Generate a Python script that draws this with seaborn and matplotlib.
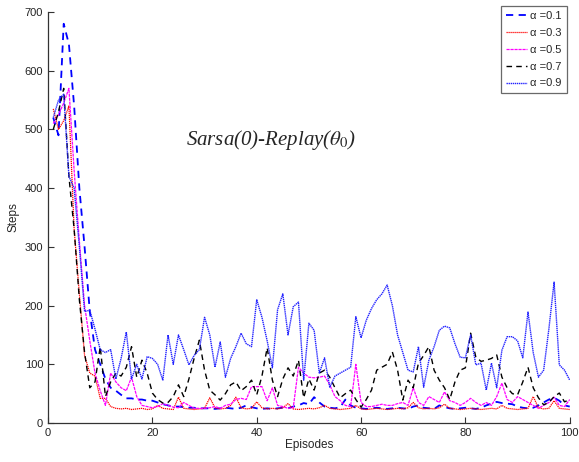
import numpy as np
import pandas as pd
import matplotlib
matplotlib.use("Agg")
import matplotlib.pyplot as plt
import seaborn as sns

episodes = list(range(1, 101))

alpha_01 = [520, 490, 680, 645, 540, 400, 300, 190, 125, 100,
            75, 60, 55, 48, 42, 42, 40, 40, 38, 38,
            35, 32, 30, 28, 28, 27, 26, 26, 25, 25,
            25, 24, 25, 26, 25, 24, 26, 30, 27, 25,
            24, 25, 24, 25, 26, 25, 28, 30, 34, 32,
            44, 35, 28, 26, 25, 27, 40, 30, 26, 25,
            24, 25, 26, 25, 24, 25, 26, 25, 24, 28,
            30, 26, 25, 24, 30, 27, 25, 24, 25, 26,
            25, 24, 26, 30, 33, 36, 34, 33, 32, 28,
            26, 25, 26, 30, 35, 40, 43, 38, 30, 28]

alpha_03 = [535, 500, 515, 540, 330, 220, 115, 85, 80, 42,
            42, 28, 25, 24, 25, 23, 24, 25, 23, 24,
            30, 25, 24, 23, 44, 25, 24, 23, 24, 25,
            43, 26, 24, 25, 30, 44, 26, 24, 25, 36,
            26, 24, 25, 24, 26, 33, 24, 23, 24, 25,
            24, 26, 30, 25, 24, 23, 24, 25, 30, 24,
            23, 24, 25, 24, 23, 24, 25, 24, 26, 35,
            26, 24, 25, 24, 26, 32, 25, 24, 23, 24,
            25, 24, 23, 24, 25, 24, 30, 25, 24, 23,
            24, 25, 45, 26, 24, 25, 38, 25, 24, 23]

alpha_05 = [510, 525, 545, 570, 430, 310, 200, 140, 85, 55,
            30, 85, 70, 60, 55, 78, 45, 30, 28, 26,
            28, 33, 30, 27, 26, 35, 30, 25, 25, 25,
            26, 28, 25, 30, 32, 40, 42, 40, 62, 62,
            62, 38, 60, 30, 28, 25, 26, 95, 85, 78,
            77, 78, 80, 65, 45, 38, 30, 28, 100, 35,
            28, 28, 30, 32, 30, 30, 33, 35, 30, 60,
            35, 30, 45, 40, 35, 53, 38, 35, 30, 35,
            42, 35, 30, 35, 30, 45, 68, 40, 35, 45,
            40, 35, 30, 25, 30, 35, 44, 30, 28, 40]

alpha_07 = [500, 530, 570, 420, 330, 210, 120, 60, 70, 130,
            45, 70, 85, 80, 95, 130, 78, 107, 85, 51,
            40, 34, 35, 45, 65, 45, 75, 110, 141, 90,
            56, 48, 39, 50, 65, 70, 55, 62, 73, 48,
            80, 128, 73, 45, 75, 94, 80, 107, 43, 75,
            56, 85, 90, 78, 60, 43, 50, 56, 40, 27,
            40, 56, 90, 95, 100, 121, 90, 39, 73, 60,
            102, 115, 130, 90, 73, 60, 40, 70, 90, 94,
            153, 112, 105, 107, 110, 116, 78, 60, 50, 48,
            70, 95, 60, 43, 31, 35, 45, 51, 36, 40]

alpha_09 = [520, 550, 560, 420, 400, 300, 190, 192, 160, 125,
            120, 125, 75, 110, 155, 75, 100, 75, 113, 110,
            100, 73, 150, 100, 150, 125, 99, 115, 125, 180,
            150, 95, 138, 78, 110, 130, 153, 135, 130, 210,
            180, 140, 94, 193, 220, 150, 198, 206, 73, 170,
            158, 85, 111, 61, 80, 85, 90, 95, 181, 145,
            175, 195, 210, 220, 235, 200, 150, 120, 90, 87,
            130, 61, 107, 130, 158, 165, 162, 135, 112, 111,
            150, 99, 102, 56, 102, 60, 124, 147, 147, 140,
            111, 189, 120, 78, 90, 160, 240, 99, 90, 73]

labels = ["α =0.1", "α =0.3", "α =0.5", "α =0.7", "α =0.9"]
series = [alpha_01, alpha_03, alpha_05, alpha_07, alpha_09]
colors = ["#0000ff", "#ff0000", "#ff00ff", "#000000", "#2222ff"]
styles = [(0, (4, 3)), (0, (1, 0.6)), (0, (2.5, 0.7)), (0, (4, 3)), (0, (1, 0.5))]
widths = [1.3, 0.9, 0.9, 1.0, 1.0]

sns.set_style("ticks")
plt.rcParams["font.family"] = ["Liberation Sans", "DejaVu Sans"]
plt.rcParams["mathtext.fontset"] = "stix"

fig = plt.figure(figsize=(5.79, 4.62), dpi=100)
ax = fig.add_axes([0.083, 0.0844, 0.901, 0.8896])

for lab, vals, c, ls, lw in zip(labels, series, colors, styles, widths):
    df = pd.DataFrame({"Episodes": episodes, "Steps": vals})
    sns.lineplot(data=df, x="Episodes", y="Steps", ax=ax, color=c,
                 linestyle=ls, linewidth=lw, label=lab)

ax.set_xlim(0, 100)
ax.set_ylim(0, 700)
ax.set_xticks(np.arange(0, 101, 20))
ax.set_yticks(np.arange(0, 701, 100))
ax.tick_params(direction="in", length=4, width=0.8, labelsize=8, colors="#333333",
               labelcolor="#222222")
for s in ["top", "right"]:
    ax.spines[s].set_visible(False)
for s in ["left", "bottom"]:
    ax.spines[s].set_color("#333333")
    ax.spines[s].set_linewidth(0.9)
ax.set_xlabel("Episodes", fontsize=8.5, labelpad=1)
ax.set_ylabel("Steps", fontsize=8.5, labelpad=4)

ax.text(42.7, 482, "Sarsa(0)-Replay(" + r"$\theta_0$" + ")", fontsize=15,
        family="Liberation Serif", style="italic", ha="center", va="center")

leg = ax.legend(loc="upper right", bbox_to_anchor=(0.994, 1.015), borderaxespad=0,
                frameon=True, fancybox=False, fontsize=8, handlelength=1.9,
                handletextpad=0.3, labelspacing=0.62, borderpad=0.45)
leg.get_frame().set_edgecolor("#444444")
leg.get_frame().set_linewidth(0.9)

fig.savefig("out.png", dpi=100)
